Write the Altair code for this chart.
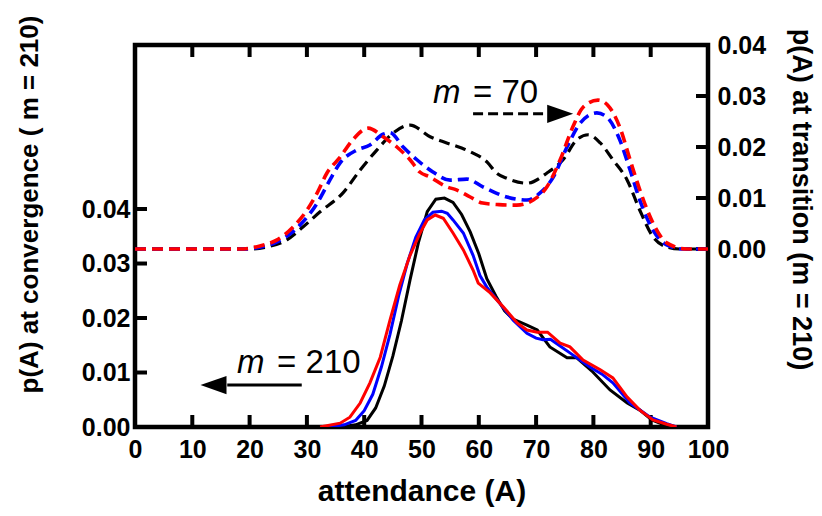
import altair as alt
import pandas as pd

FONT = "Liberation Sans"

# ---- p(A) at convergence, m = 210 (solid lines, left axis) ----
conv_black_A = [36.0, 38.5, 40.5, 42.0, 43.5, 45.0, 46.5, 48.0, 49.5, 51.0, 52.5, 54.0, 55.5,
                57.0, 58.5, 60.0, 61.4, 63.0, 64.5, 66.0, 68.4, 70.2, 72.4, 75.4, 77.1, 79.9,
                82.9, 85.9, 88.1, 90.2, 92.1, 94.0]
conv_black_p = [0.0, 0.0004, 0.0012, 0.0035, 0.0075, 0.0130, 0.0195, 0.0270, 0.0340, 0.0395,
                0.0418, 0.0420, 0.0412, 0.0390, 0.0358, 0.0318, 0.0272, 0.0240, 0.0213, 0.0198,
                0.0187, 0.0178, 0.0147, 0.0127, 0.0127, 0.0101, 0.0068, 0.0044, 0.0031, 0.0013,
                0.0005, 0.0]

conv_blue_A = [33.5, 36.5, 38.5, 40.0, 41.5, 43.0, 44.5, 46.0, 47.5, 49.0, 50.5, 52.0, 53.5,
               54.5, 55.5, 57.3, 59.0, 60.2, 61.5, 63.2, 66.0, 68.4, 70.0, 71.2, 72.5, 74.0,
               75.9, 79.4, 81.5, 83.4, 86.4, 89.9, 92.8, 94.5]
conv_blue_p = [0.0, 0.0004, 0.0012, 0.0030, 0.0060, 0.0110, 0.0170, 0.0240, 0.0300, 0.0348,
               0.0380, 0.0394, 0.0396, 0.0392, 0.0380, 0.0356, 0.0315, 0.0278, 0.0255, 0.0233,
               0.0196, 0.0172, 0.0163, 0.0160, 0.0161, 0.0150, 0.0136, 0.0110, 0.0097, 0.0081,
               0.0044, 0.0018, 0.0006, 0.0]

conv_red_A = [32.3, 35.8, 37.5, 39.3, 41.0, 42.8, 44.5, 46.2, 48.0, 49.7, 51.0, 52.4, 53.8,
              55.5, 57.3, 59.0, 59.9, 62.0, 64.3, 66.7, 68.4, 70.2, 72.0, 74.2, 75.9, 78.2,
              81.2, 83.4, 85.9, 88.1, 90.4, 92.8, 94.5]
conv_red_p = [0.0, 0.0007, 0.0018, 0.0044, 0.0081, 0.0128, 0.0196, 0.0260, 0.0315, 0.0355,
              0.0380, 0.0389, 0.0383, 0.0356, 0.0325, 0.0288, 0.0264, 0.0246, 0.0220, 0.0191,
              0.0178, 0.0174, 0.0174, 0.0154, 0.0147, 0.0123, 0.0105, 0.0090, 0.0055, 0.0031,
              0.0013, 0.0005, 0.0]

# ---- p(A) at transition, m = 210 (dashed lines, right axis) ----
trans_black_A = [0, 20.0, 23.0, 26.5, 29.3, 32.3, 36.3, 39.3, 42.2, 45.0, 48.0, 51.5, 54.4,
                 57.0, 59.0, 61.5, 63.0, 65.0, 68.4, 71.9, 74.7, 77.1, 79.1, 81.2, 83.4, 85.9,
                 88.1, 90.4, 92.8, 95.0, 100]
trans_black_p = [0.0, 0.0, 0.0004, 0.0018, 0.0043, 0.0073, 0.0110, 0.0155, 0.0194, 0.0227,
                 0.0243, 0.0220, 0.0208, 0.0198, 0.0188, 0.0170, 0.0150, 0.0138, 0.0129, 0.0149,
                 0.0175, 0.0214, 0.0224, 0.0208, 0.0175, 0.0135, 0.0076, 0.0024, 0.0004, 0.0, 0.0]

trans_blue_A = [0, 19.0, 22.0, 24.8, 28.8, 31.8, 34.0, 35.8, 38.7, 41.0, 43.3, 44.5, 46.8,
                49.2, 52.0, 55.0, 57.9, 60.7, 64.9, 68.4, 70.7, 73.0, 75.4, 77.7, 80.6, 82.5,
                84.6, 86.4, 88.1, 90.4, 92.8, 95.5, 100]
trans_blue_p = [0.0, 0.0, 0.0004, 0.0014, 0.0047, 0.0090, 0.0135, 0.0169, 0.0194, 0.0204,
                0.0225, 0.0228, 0.0200, 0.0175, 0.0151, 0.0135, 0.0137, 0.0122, 0.0102, 0.0096,
                0.0110, 0.0141, 0.0200, 0.0247, 0.0267, 0.0257, 0.0214, 0.0155, 0.0096, 0.0037,
                0.0008, 0.0, 0.0]

trans_red_A = [0, 18.3, 21.8, 24.8, 27.6, 30.0, 31.8, 33.5, 35.8, 38.0, 40.7, 43.3, 45.7,
               48.0, 49.7, 51.5, 54.4, 56.1, 58.5, 60.7, 63.5, 66.6, 69.5, 71.9, 74.2, 76.4,
               78.2, 80.8, 82.5, 84.6, 86.4, 88.1, 90.4, 92.8, 96.3, 100]
trans_red_p = [0.0, 0.0, 0.0006, 0.0018, 0.0043, 0.0076, 0.0110, 0.0149, 0.0180, 0.0214,
               0.0237, 0.0220, 0.0200, 0.0175, 0.0151, 0.0141, 0.0122, 0.0116, 0.0102, 0.0090,
               0.0087, 0.0086, 0.0096, 0.0122, 0.0175, 0.0239, 0.0278, 0.0292, 0.0282, 0.0239,
               0.0175, 0.0116, 0.0051, 0.0012, 0.0, 0.0]

# ---- annotation labels and arrows ----
conv_label = {"m_A": 17.8, "rest_A": 24.8, "p": 0.0099, "rest": "= 210"}
conv_arrow = {"A0": 16.1, "A1": 29.1, "p": 0.0077, "head": 13.7}

trans_label = {"m_A": 52.0, "rest_A": 59.0, "p": 0.0286, "rest": "= 70"}
trans_arrow = {"A0": 59.0, "A1": 71.9, "p": 0.0265, "head": 74.2}

x_ticks = list(range(0, 101, 10))
p_ticks = [0.0, 0.01, 0.02, 0.03, 0.04]

W, H = 573, 382
TICK = 12

x_dom = [0, 100]
yl_dom = [0, 0.0701]
yr_dom = [-0.0349, 0.04]
x_scale = alt.Scale(domain=x_dom, nice=False, zero=False)
yl_scale = alt.Scale(domain=yl_dom, nice=False, zero=False)
yr_scale = alt.Scale(domain=yr_dom, nice=False, zero=False)

tick_style = dict(domain=False, grid=False, ticks=False, offset=-TICK,
                  labelFont=FONT, labelFontSize=25, labelFontWeight="bold",
                  labelColor="black", labelOverlap=False,
                  titleFont=FONT, titleFontWeight="bold", titleColor="black")

x_bottom = alt.Axis(orient="bottom", values=x_ticks, title="attendance (A)", labelFlush=False,
                    labelPadding=10 + TICK, titleFontSize=30, titleY=85,
                    titleBaseline="alphabetic", **tick_style)
x_top = alt.Axis(orient="top", values=x_ticks, title="", labels=False, **tick_style)
y_left = alt.Axis(orient="left", values=p_ticks, format=".2f", labelPadding=5 + TICK,
                  title="p(A) at convergence ( m = 210)", titleFontSize=26, titleAngle=270,
                  titleX=-118, titleY=159, titleAlign="center", titleBaseline="middle",
                  **tick_style)
y_right = alt.Axis(orient="right", values=p_ticks, format=".2f", labelPadding=9 + TICK,
                   title="p(A) at transition (m = 210)", titleFontSize=27, titleAngle=90,
                   titleX=104, titleY=154, titleAlign="center", titleBaseline="middle",
                   **tick_style)


def curve(A, p, color, y_scale, x_axis, y_axis, dash=None, width=3.0, interp="linear"):
    mark_kw = dict(color=color, strokeWidth=width, interpolate=interp, clip=True)
    if dash:
        mark_kw["strokeDash"] = dash
    return alt.Chart(pd.DataFrame({"A": A, "p": p})).mark_line(**mark_kw).encode(
        x=alt.X("A:Q", scale=x_scale, axis=x_axis),
        y=alt.Y("p:Q", scale=y_scale, axis=y_axis),
    )


def label(spec, y_scale, x_axis, y_axis):
    # italic "m" followed by the upright "= value" part
    def piece(A, text, style):
        df = pd.DataFrame({"A": [A], "p": [spec["p"]], "t": [text]})
        return alt.Chart(df).mark_text(font=FONT, fontSize=33, fontStyle=style,
                                       align="left", baseline="alphabetic",
                                       color="black").encode(
            x=alt.X("A:Q", scale=x_scale, axis=x_axis),
            y=alt.Y("p:Q", scale=y_scale, axis=y_axis),
            text="t:N",
        )
    return [piece(spec["m_A"], "m", "italic"), piece(spec["rest_A"], spec["rest"], "normal")]


def arrow(spec, y_scale, x_axis, y_axis, dash=None, pointing="right"):
    shaft_kw = dict(color="black", strokeWidth=3)
    if dash:
        shaft_kw["strokeDash"] = dash
    df = pd.DataFrame({"A": [spec["A0"]], "A1": [spec["A1"]], "p": [spec["p"]]})
    shaft = alt.Chart(df).mark_rule(**shaft_kw).encode(
        x=alt.X("A:Q", scale=x_scale, axis=x_axis),
        x2="A1:Q",
        y=alt.Y("p:Q", scale=y_scale, axis=y_axis),
    )
    path = "M-1,-0.7L1,0L-1,0.7Z" if pointing == "right" else "M1,-0.7L-1,0L1,0.7Z"
    head = alt.Chart(pd.DataFrame({"A": [spec["head"]], "p": [spec["p"]]})).mark_point(
        shape=path, filled=True, size=676, color="black", opacity=1, strokeWidth=0
    ).encode(
        x=alt.X("A:Q", scale=x_scale, axis=x_axis),
        y=alt.Y("p:Q", scale=y_scale, axis=y_axis),
    )
    return [shaft, head]


def inward_ticks(y_scale, y_dom, x_axis, y_axis, bottom):
    # short tick marks pointing into the frame, centred half a tick inside each edge
    half_dx = (x_dom[1] - x_dom[0]) * TICK / W / 2
    half_dy = (y_dom[1] - y_dom[0]) * TICK / H / 2
    y_mid = y_dom[0] + half_dy if bottom else y_dom[1] - half_dy
    x_mid = x_dom[0] + half_dx if bottom else x_dom[1] - half_dx
    xt = alt.Chart(pd.DataFrame({"A": x_ticks, "p": [y_mid] * len(x_ticks)})).mark_tick(
        orient="vertical", size=TICK, thickness=4, color="black", opacity=1
    ).encode(
        x=alt.X("A:Q", scale=x_scale, axis=x_axis),
        y=alt.Y("p:Q", scale=y_scale, axis=y_axis),
    )
    yt = alt.Chart(pd.DataFrame({"A": [x_mid] * len(p_ticks), "p": p_ticks})).mark_tick(
        orient="horizontal", size=TICK, thickness=4, color="black", opacity=1
    ).encode(
        x=alt.X("A:Q", scale=x_scale, axis=x_axis),
        y=alt.Y("p:Q", scale=y_scale, axis=y_axis),
    )
    return [xt, yt]


ax_c = (x_bottom, y_left)
convergence = alt.layer(
    *inward_ticks(yl_scale, yl_dom, *ax_c, bottom=True),
    curve(conv_black_A, conv_black_p, "black", yl_scale, *ax_c),
    curve(conv_blue_A, conv_blue_p, "#0000ff", yl_scale, *ax_c),
    curve(conv_red_A, conv_red_p, "#ff0000", yl_scale, *ax_c),
    *label(conv_label, yl_scale, *ax_c),
    *arrow(conv_arrow, yl_scale, *ax_c, pointing="left"),
)

dash = [11, 6]
ax_t = (x_top, y_right)
transition = alt.layer(
    *inward_ticks(yr_scale, yr_dom, *ax_t, bottom=False),
    curve(trans_black_A, trans_black_p, "black", yr_scale, *ax_t, dash=dash, width=3.2,
          interp="monotone"),
    curve(trans_blue_A, trans_blue_p, "#0000ff", yr_scale, *ax_t, dash=dash, width=3.6,
          interp="monotone"),
    curve(trans_red_A, trans_red_p, "#ff0000", yr_scale, *ax_t, dash=dash, width=3.6,
          interp="monotone"),
    *label(trans_label, yr_scale, *ax_t),
    *arrow(trans_arrow, yr_scale, *ax_t, dash=[10, 5], pointing="right"),
)

chart = alt.layer(convergence, transition).resolve_scale(
    y="independent"
).resolve_axis(
    x="independent", y="independent"
).properties(
    width=W,
    height=H,
    padding={"left": 135, "top": 45, "right": 114, "bottom": 89},
    autosize=alt.AutoSizeParams(type="none"),
    background="white",
).configure_view(
    stroke="black", strokeWidth=4.5
)

chart.save("out.html", embed_options={"renderer": "svg", "actions": False})
